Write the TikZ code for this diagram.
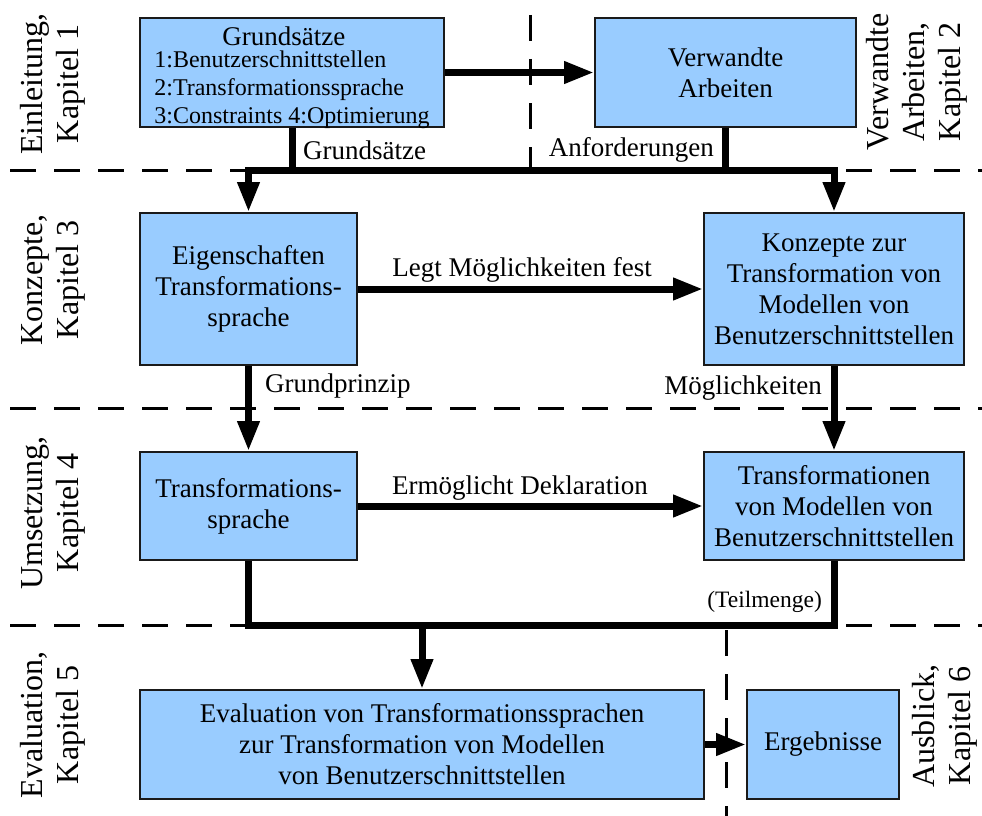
\documentclass[tikz,border=0pt]{standalone}
\usepackage{fontspec}
\setmainfont{Liberation Serif}
\usetikzlibrary{arrows.meta}
\definecolor{boxblue}{HTML}{99CCFF}
\definecolor{boxedge}{HTML}{1A1A1A}
\begin{document}
\begin{tikzpicture}[x=1pt,y=-1pt,
  box/.style={draw=boxedge, line width=2pt, fill=boxblue, align=center,
    inner sep=0pt, font=\fontsize{27}{31}\selectfont},
  flow/.style={line width=7pt, draw=black},
  tip/.style={-{Triangle[length=30pt,width=21pt]}},
  sep/.style={line width=3pt, dash pattern=on 26pt off 18pt},
  lbl/.style={font=\fontsize{27}{31}\selectfont, inner sep=0pt},
  side/.style={rotate=90, align=center, font=\fontsize{32}{36}\selectfont, inner sep=0pt}]
\useasboundingbox (0,0) rectangle (982,816);

% chapter separators
\draw[sep] (10,170) -- (982,170);
\draw[sep] (10,408) -- (982,408);
\draw[sep] (10,625) -- (982,625);
\draw[sep] (530,15) -- (530,170);
\draw[sep] (726,630) -- (726,816);

% chapter names
\node[side] (ch1) at (53,84) {Einleitung,\\Kapitel 1};
\node[side] (ch2) at (917,82) {Verwandte\\Arbeiten,\\Kapitel 2};
\node[side] (ch3) at (53,280) {Konzepte,\\Kapitel 3};
\node[side] (ch4) at (53,513) {Umsetzung,\\Kapitel 4};
\node[side] (ch5) at (53,725) {Evaluation,\\Kapitel 5};
\node[side] (ch6) at (945,726) {Ausblick,\\Kapitel 6};

% boxes
\node[box, minimum width=304pt, minimum height=109pt] (grund) at (292,72.5)
  {\raisebox{-5.5pt}[\height][\depth]{\begin{tabular}{@{}l@{}}
   \hspace*{68pt}Grundsätze\\[-9pt]
   {\fontsize{24}{27}\selectfont 1:Benutzerschnittstellen}\\[-3pt]
   {\fontsize{24}{27}\selectfont 2:Transformationssprache}\\[-3pt]
   {\fontsize{24}{27}\selectfont 3:Constraints 4:Optimierung}
   \end{tabular}}};
\node[box, minimum width=261pt, minimum height=109pt] (verw) at (725.5,72.5)
  {Verwandte\\Arbeiten};
\node[box, minimum width=217pt, minimum height=152pt] (eig) at (248.5,289)
  {Eigenschaften\\Transformations-\\sprache};
\node[box, minimum width=260pt, minimum height=152pt] (konz) at (834,289)
  {Konzepte zur\\Transformation von\\Modellen von\\Benutzerschnittstellen};
\node[box, minimum width=217pt, minimum height=108pt] (spr) at (248.5,506)
  {Transformations-\\sprache};
\node[box, minimum width=260pt, minimum height=108pt] (trans) at (834,506)
  {Transformationen\\von Modellen von\\Benutzerschnittstellen};
\node[box, minimum width=564pt, minimum height=109pt] (eval) at (422,744.5)
  {Evaluation von Transformationssprachen\\zur Transformation von Modellen\\von Benutzerschnittstellen};
\node[box, minimum width=152pt, minimum height=109pt] (erg) at (823,744.5)
  {Ergebnisse};

% junction points
\coordinate (jl) at (248.5,170);
\coordinate (jr) at (834,170);
\coordinate (bl) at (248.5,625);
\coordinate (br) at (834,625);
\coordinate (bm) at (422,625);

% connectors
\draw[flow, tip] (grund.east) -- (verw.west);
\draw[flow, tip] (grund.south) |- (jl) -- (eig.north);
\draw[flow, tip] (grund.south |- jl) -- (jr) -- (konz.north);
\draw[flow] (verw.south) -- (verw.south |- jl);
\draw[flow, tip] (eig.east) -- (konz.west);
\draw[flow, tip] (eig.south) -- (spr.north);
\draw[flow, tip] (konz.south) -- (trans.north);
\draw[flow, tip] (spr.east) -- (trans.west);
\draw[flow] (spr.south) -- (bl) -- (br) -- (trans.south);
\draw[flow, tip] (bm) -- (eval.north);
\draw[flow, tip] (eval.east) -- (erg.west);

% connector labels
\node[lbl, anchor=west] (lgrund) at (303,150) {Grundsätze};
\node[lbl, anchor=east] (lanf) at (714,150) {Anforderungen};
\node[lbl] (llegt) at (522,270) {Legt Möglichkeiten fest};
\node[lbl, anchor=west] (lprinz) at (265,386) {Grundprinzip};
\node[lbl, anchor=east] (lmoeg) at (822,388) {Möglichkeiten};
\node[lbl] (lerm) at (520,488) {Ermöglicht Deklaration};
\node[lbl, font=\fontsize{23.5}{27}\selectfont, anchor=east] (lteil) at (822,602) {(Teilmenge)};
\end{tikzpicture}
\end{document}
